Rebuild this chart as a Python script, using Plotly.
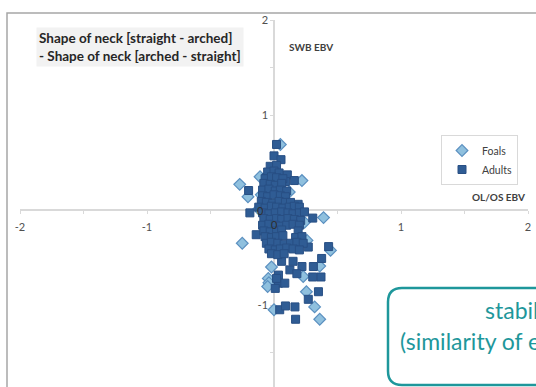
import plotly.graph_objects as go

# ---------------- data ----------------
foals_x = [0.05, -0.11, 0.22, -0.27, -0.205, -0.12, 0.39, -0.25, 0.445, -0.02, 0.36, 0.23,
           -0.045, -0.04, -0.05, 0.255, 0.32, 0.00, 0.36,
           0.02, -0.07, 0.10, 0.24, 0.17, -0.05, 0.12, 0.05, 0.26, -0.10]
foals_y = [0.69, 0.35, 0.31, 0.27, 0.14, 0.01, -0.08, -0.35, -0.425, -0.60, -0.59, -0.70,
           -0.72, -0.765, -0.805, -0.86, -1.02, -1.05, -1.15,
           0.25, 0.06, -0.06, -0.13, -0.37, -0.20, 0.19, -0.43, -0.32, 0.16]

adults_x = [
    # scattered points
    0.02, 0.00, 0.055, 0.105, 0.09, 0.16, -0.06, -0.20, -0.19, -0.14, 0.19, 0.305, 0.18,
    0.27, 0.43, 0.06, 0.15, 0.22, 0.31, 0.375, 0.035, 0.125, 0.18, 0.305, 0.37, 0.035,
    0.085, 0.01, 0.02, 0.35, 0.27, 0.045, 0.09, 0.165, 0.17,
    # dense core
    -0.03, 0.02,
    -0.05, 0.00, 0.04,
    -0.07, -0.02, 0.02, 0.07,
    -0.08, -0.03, 0.01, 0.06,
    -0.09, -0.04, 0.01, 0.05, 0.10,
    -0.09, -0.05, 0.00, 0.05, 0.09,
    -0.10, -0.06, -0.01, 0.04, 0.09, 0.13,
    -0.12, -0.07, -0.02, 0.02, 0.07, 0.12, 0.16, 0.20,
    -0.09, -0.04, 0.01, 0.06, 0.11, 0.15, 0.20, 0.24,
    -0.08, -0.03, 0.02, 0.06, 0.11, 0.16, 0.21,
    -0.09, -0.04, 0.01, 0.05, 0.10, 0.15, 0.20,
    -0.08, -0.03, 0.02, 0.06, 0.19,
    -0.07, -0.02, 0.02, 0.07, 0.17, 0.22,
    -0.06, -0.02, 0.03, 0.08, 0.13, 0.18, 0.23,
    -0.04, 0.01, 0.05, 0.10, 0.15, 0.20,
    -0.02, 0.03, 0.08,
]
adults_y = [
    0.69, 0.57, 0.53, 0.37, 0.30, 0.31, 0.34, 0.205, -0.03, -0.26, 0.06, -0.085, -0.05,
    -0.39, -0.385, -0.54, -0.54, -0.595, -0.595, -0.51, -0.685, -0.63, -0.67, -0.705, -0.705, -0.77,
    -0.77, -0.825, -0.72, -0.86, -0.94, -1.05, -1.01, -1.02, -1.15,
    0.46, 0.47,
    0.40, 0.41, 0.39,
    0.33, 0.35, 0.34, 0.33,
    0.28, 0.27, 0.26, 0.28,
    0.21, 0.22, 0.20, 0.21, 0.20,
    0.15, 0.14, 0.16, 0.15, 0.14,
    0.09, 0.08, 0.07, 0.09, 0.08, 0.08,
    0.03, 0.02, 0.04, 0.03, 0.02, 0.03, 0.04, 0.03,
    -0.03, -0.04, -0.03, -0.02, -0.03, -0.04, -0.03, -0.02,
    -0.09, -0.10, -0.09, -0.10, -0.09, -0.10, -0.11,
    -0.16, -0.15, -0.16, -0.17, -0.16, -0.15, -0.16,
    -0.22, -0.23, -0.22, -0.21, -0.22,
    -0.28, -0.29, -0.28, -0.27, -0.29, -0.28,
    -0.35, -0.34, -0.35, -0.36, -0.35, -0.34, -0.35,
    -0.41, -0.42, -0.41, -0.40, -0.41, -0.42,
    -0.46, -0.47, -0.46,
]

x_tick_vals = [-2, -1.5, -1, -0.5, 0, 0.5, 1, 1.5, 2]
x_tick_text = ["-2", "", "-1", "", "", "", "1", "", "2"]
y_tick_vals = [-1.5, -1, -0.5, 0, 0.5, 1, 1.5, 2]
y_tick_text = ["", "-1", "", "", "", "1", "", "2"]
zero_label = "0"  # origin tick label, shown once on each axis above the markers

series_names = ["Foals", "Adults"]
chart_title = "<b>Shape of neck [straight - arched]<br>- Shape of neck [arched - straight]</b>"
y_axis_title = "<b>SWB EBV</b>"
x_axis_title = "<b>OL/OS EBV</b>"
callout_lines = ["stability", "(similarity of estimates)"]

# ---------------- layout helpers ----------------
W, H = 536, 387
def px(v):
    return v / W
def py(v):
    return 1 - v / H

FONT = "Lato, 'Open Sans', sans-serif"
AXIS_COLOR = "#d9d9d9"
TICK_FONT_COLOR = "#505050"
TEAL = "#1e979b"

fig = go.Figure()
fig.add_trace(go.Scatter(
    x=foals_x, y=foals_y, mode="markers", name=series_names[0],
    marker=dict(symbol="diamond", size=9, color="#8fc0de",
                line=dict(color="#5b90c0", width=1.2)),
))
fig.add_trace(go.Scatter(
    x=adults_x, y=adults_y, mode="markers", name=series_names[1],
    marker=dict(symbol="square", size=8, color="#2f5c94",
                line=dict(color="#284f84", width=1)),
))

fig.update_layout(
    width=W, height=H,
    margin=dict(l=0, r=0, t=0, b=0, autoexpand=False),
    paper_bgcolor="white", plot_bgcolor="white",
    font=dict(family=FONT, color="#595959"),
    xaxis=dict(
        range=[-2, 2], domain=[px(20), px(528)],
        anchor="free", position=py(210), layer="below traces",
        showline=True, linecolor=AXIS_COLOR, linewidth=1.5,
        ticks="outside", ticklen=3, tickcolor=AXIS_COLOR, tickwidth=1,
        tickvals=x_tick_vals, ticktext=x_tick_text,
        tickfont=dict(size=11, color=TICK_FONT_COLOR),
        showgrid=False, zeroline=False, ticklabelstandoff=4,
    ),
    yaxis=dict(
        range=[-1.863, 2], domain=[0, py(20)],
        anchor="free", position=px(274), layer="below traces",
        showline=True, linecolor=AXIS_COLOR, linewidth=1.5,
        ticks="outside", ticklen=3, tickcolor=AXIS_COLOR, tickwidth=1,
        tickvals=y_tick_vals, ticktext=y_tick_text,
        tickfont=dict(size=11, color=TICK_FONT_COLOR),
        showgrid=False, zeroline=False,
    ),
    legend=dict(
        x=px(441), y=py(135), xanchor="left", yanchor="top",
        bordercolor=AXIS_COLOR, borderwidth=1, bgcolor="white",
        font=dict(size=10.5, color="#404040", family=FONT),
        tracegroupgap=0,
    ),
    showlegend=True,
)

# origin tick labels (drawn above the markers, as in the reference)
fig.add_annotation(x=0, y=0, xref="x", yref="y", text=zero_label, showarrow=False,
                   xanchor="center", yanchor="middle", yshift=-14,
                   font=dict(size=11, color="#303030", family=FONT))
fig.add_annotation(x=0, y=0, xref="x", yref="y", text=zero_label, showarrow=False,
                   xanchor="center", yanchor="middle", xshift=-14,
                   font=dict(size=11, color="#303030", family=FONT))

# outer chart frame (cropped at right/bottom)
fig.add_shape(type="rect", xref="paper", yref="paper",
              x0=px(7), y0=py(13), x1=px(700), y1=py(600),
              line=dict(color="#a6a6a6", width=1.5), layer="below")

# rounded callout box (cropped)
x0, x1, y0, y1, r = 388, 760, 288, 385, 14
path = (f"M {px(x0 + r)},{py(y0)} L {px(x1 - r)},{py(y0)} "
        f"Q {px(x1)},{py(y0)} {px(x1)},{py(y0 + r)} L {px(x1)},{py(y1 - r)} "
        f"Q {px(x1)},{py(y1)} {px(x1 - r)},{py(y1)} L {px(x0 + r)},{py(y1)} "
        f"Q {px(x0)},{py(y1)} {px(x0)},{py(y1 - r)} L {px(x0)},{py(y0 + r)} "
        f"Q {px(x0)},{py(y0)} {px(x0 + r)},{py(y0)} Z")
fig.add_shape(type="path", xref="paper", yref="paper", path=path,
              line=dict(color=TEAL, width=2.5), fillcolor="rgba(0,0,0,0)")

# title box
fig.add_annotation(xref="paper", yref="paper", x=px(36), y=py(27),
                   xanchor="left", yanchor="top", align="left", showarrow=False,
                   text=chart_title, bgcolor="#f2f2f2", borderpad=2,
                   font=dict(size=13.5, color="#262626", family=FONT))
# axis titles
fig.add_annotation(xref="paper", yref="paper", x=px(311), y=py(47),
                   xanchor="center", yanchor="middle", showarrow=False,
                   text=y_axis_title, font=dict(size=10, color="#404040", family=FONT))
fig.add_annotation(xref="paper", yref="paper", x=px(498), y=py(197),
                   xanchor="center", yanchor="middle", showarrow=False,
                   text=x_axis_title, font=dict(size=10, color="#404040", family=FONT))
# callout text
fig.add_annotation(xref="paper", yref="paper", x=px(483), y=py(310),
                   xanchor="left", yanchor="middle", showarrow=False,
                   text=callout_lines[0], font=dict(size=23, color=TEAL, family=FONT))
fig.add_annotation(xref="paper", yref="paper", x=px(398), y=py(341),
                   xanchor="left", yanchor="middle", showarrow=False,
                   text=callout_lines[1], font=dict(size=23, color=TEAL, family=FONT))

fig.write_html("out.html", config={"displayModeBar": False},
               post_script="document.body.style.margin='0';document.body.style.overflow='hidden';")
